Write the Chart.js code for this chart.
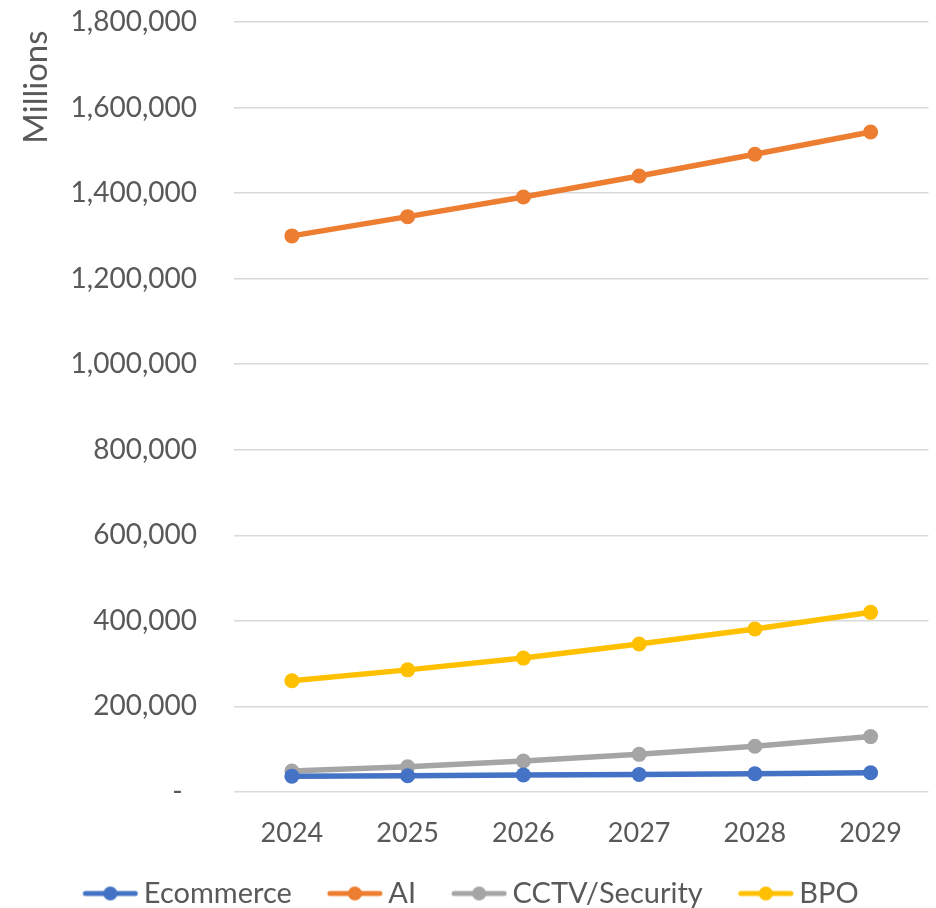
<!DOCTYPE html>
<html>
<head>
<meta charset="utf-8">
<script src="https://cdn.jsdelivr.net/npm/chart.js@4.4.0/dist/chart.umd.min.js"></script>
<style>
html,body{margin:0;padding:0;background:#fff;}
#wrap{width:936px;height:908px;position:relative;}
</style>
</head>
<body>
<div id="wrap"><canvas id="c" width="936" height="908"></canvas></div>
<script>
const categories = ['2024','2025','2026','2027','2028','2029'];
const seriesNames = ['Ecommerce','AI','CCTV/Security','BPO'];
const ecommerce = [37000, 38000, 40000, 41000, 42500, 45000];
const ai = [1300000, 1345000, 1391000, 1440000, 1491000, 1543000];
const cctv = [49000, 59000, 72500, 88000, 107000, 129500];
const bpo = [260000, 285500, 313000, 346000, 381000, 420000];
const yTicks = [0, 200000, 400000, 600000, 800000, 1000000, 1200000, 1400000, 1600000, 1800000];
const colors = ['#4472C4','#ED7D31','#A5A5A5','#FFC000'];
const FONT = 'Lato, "Open Sans", sans-serif';
const TXT = '#595959';

// legend icon: transparent margin on the left so the visible marker sits closer to its text
function legendIcon(color){
  const c = document.createElement('canvas');
  c.width = 76; c.height = 18;
  const g = c.getContext('2d');
  g.strokeStyle = color; g.lineWidth = 5; g.lineCap = 'round';
  g.beginPath(); g.moveTo(23, 9); g.lineTo(73, 9); g.stroke();
  g.fillStyle = color;
  g.beginPath(); g.arc(48, 9, 7, 0, Math.PI*2); g.fill();
  return c;
}
const icons = colors.map(legendIcon);

const dataSets = [ecommerce, ai, cctv, bpo].map((d, i) => ({
  label: seriesNames[i],
  data: d,
  borderColor: colors[i],
  backgroundColor: colors[i],
  borderWidth: 5.5,
  pointRadius: 7.5,
  pointHoverRadius: 7.5,
  pointBorderWidth: 0,
  pointStyle: 'circle',
  tension: 0,
  order: i === 0 ? 0 : 4 - i
}));

new Chart(document.getElementById('c'), {
  type: 'line',
  data: { labels: categories, datasets: dataSets },
  options: {
    responsive: false,
    animation: false,
    devicePixelRatio: 1,
    layout: { padding: { top: 22, right: 6, bottom: -10, left: 0 } },
    plugins: {
      tooltip: { enabled: false },
      legend: {
        position: 'bottom',
        labels: {
          font: { family: FONT, size: 29 },
          color: TXT,
          usePointStyle: true,
          pointStyleWidth: 58,
          padding: 24,
          generateLabels: (chart) => chart.data.datasets.map((ds, i) => ({
            text: ds.label,
            pointStyle: icons[i],
            fillStyle: ds.borderColor,
            strokeStyle: ds.borderColor,
            lineWidth: 0,
            fontColor: TXT,
            datasetIndex: i,
            hidden: false
          }))
        }
      }
    },
    scales: {
      x: {
        offset: true,
        grid: { display: false, drawTicks: false, offset: true },
        border: { display: false },
        ticks: { font: { family: FONT, size: 27 }, color: TXT, padding: 25 },
        afterFit: (s) => { s.height = 63; s.paddingTop = 0; s.paddingBottom = 0; }
      },
      y: {
        min: 0, max: 1800000,
        afterBuildTicks: (s) => { s.ticks = yTicks.map(v => ({ value: v })); },
        grid: { color: '#D9D9D9', lineWidth: 1.5, drawTicks: false },
        border: { display: false },
        ticks: {
          font: { family: FONT, size: 28 },
          color: TXT,
          padding: 37,
          callback: (v) => v === 0 ? '-  ' : v.toLocaleString('en-US')
        },
        title: {
          display: true, text: 'Millions ', align: 'end',
          font: { family: FONT, size: 33 }, color: TXT,
          padding: { top: 17, bottom: 0 }
        },
        afterFit: (s) => { s.width = 234; s.paddingTop = 0; s.paddingBottom = 0; }
      }
    }
  }
});
</script>
</body>
</html>
